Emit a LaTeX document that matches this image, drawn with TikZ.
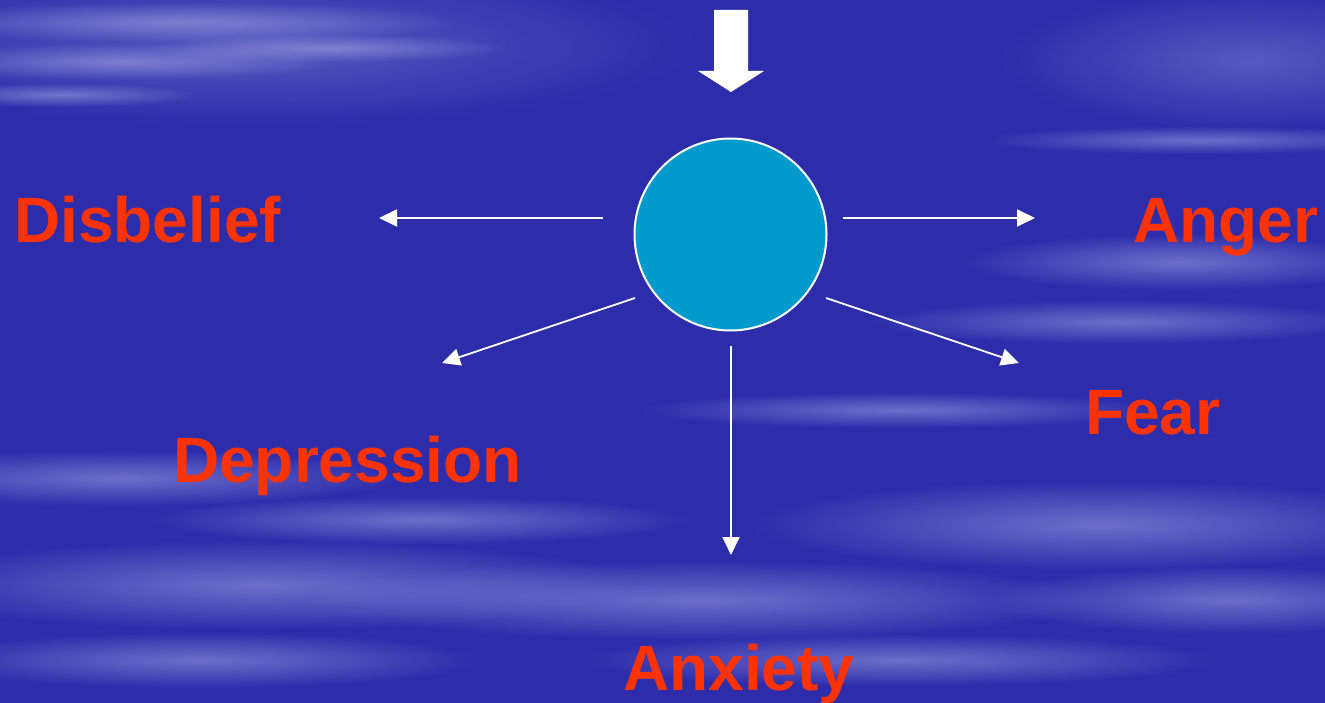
\documentclass[tikz,border=0pt]{standalone}
\usepackage{fontspec}
\setmainfont{Liberation Sans}
\usetikzlibrary{arrows.meta,fadings}
\definecolor{bgblue}{RGB}{45,45,172}
\definecolor{cloudc}{RGB}{190,190,238}
\definecolor{ballc}{RGB}{0,155,204}
\definecolor{labelc}{RGB}{255,51,0}
\tikzfading[name=softfade, inner color=transparent!0, outer color=transparent!100]
\tikzset{
  cloud/.style={fill=cloudc, path fading=softfade},
  label/.style={text=labelc, font=\fontsize{64}{70}\selectfont\bfseries, inner sep=0pt, anchor=base west},
  conn/.style={white, line width=1.8pt, -{Triangle[length=18pt,width=17pt]}},
  ball/.style={circle, fill=ballc, draw=white, line width=2pt, minimum size=192pt, inner sep=0pt}
}
\begin{document}
\begin{tikzpicture}[x=1pt,y=-1pt]
\useasboundingbox (0,0) rectangle (1325,703);
% background
\fill[bgblue] (0,0) rectangle (1325,703);
% clouds
\begin{scope}[opacity=0.3]
\fill[cloud] (250,45) ellipse (450 and 80);
\fill[cloud] (1250,60) ellipse (250 and 70);
\end{scope}
\begin{scope}[opacity=0.45]
\fill[cloud] (180,22) ellipse (280 and 20);
\fill[cloud] (120,62) ellipse (220 and 18);
\fill[cloud] (330,48) ellipse (180 and 14);
\fill[cloud] (60,95) ellipse (140 and 12);
\fill[cloud] (1200,140) ellipse (220 and 14);
\fill[cloud] (1180,262) ellipse (220 and 28);
\fill[cloud] (1120,322) ellipse (250 and 22);
\fill[cloud] (900,410) ellipse (260 and 18);
\fill[cloud] (120,478) ellipse (280 and 28);
\fill[cloud] (420,520) ellipse (270 and 24);
\fill[cloud] (260,585) ellipse (380 and 45);
\fill[cloud] (700,600) ellipse (400 and 40);
\fill[cloud] (1100,525) ellipse (350 and 45);
\fill[cloud] (1230,600) ellipse (240 and 34);
\fill[cloud] (900,660) ellipse (320 and 26);
\fill[cloud] (200,660) ellipse (280 and 28);
\end{scope}
% top block arrow
\fill[white] (714,10) -- (748,10) -- (748,71) -- (764,71) -- (731,92) -- (698,71) -- (714,71) -- cycle;
% central circle
\node[ball] (c) at (730.5,234.5) {};
% connector coordinates
\coordinate (sl) at (603,218); \coordinate (el) at (379,218);
\coordinate (sr) at (843,218); \coordinate (er) at (1035,218);
\coordinate (sdl) at (635,298); \coordinate (edl) at (442,363);
\coordinate (sdr) at (826,298); \coordinate (edr) at (1019,363);
\coordinate (sd) at (731,346); \coordinate (ed) at (731,555);
\draw[conn] (sl) -- (el);
\draw[conn] (sr) -- (er);
\draw[conn] (sdl) -- (edl);
\draw[conn] (sdr) -- (edr);
\draw[conn] (sd) -- (ed);
% labels
\node[label] (disbelief) at (14,243) {Disbelief};
\node[label] (anger) at (1133,243) {Anger};
\node[label] (fear) at (1085,434) {Fear};
\node[label] (depression) at (173,482) {Depression};
\node[label] (anxiety) at (623,690) {Anxiety};
\end{tikzpicture}
\end{document}
